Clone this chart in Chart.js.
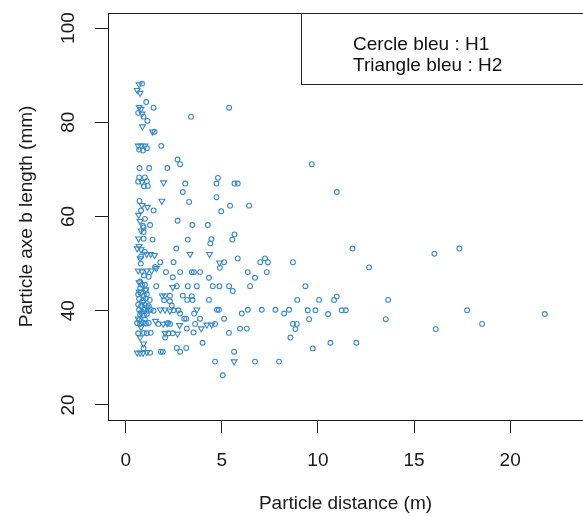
<!DOCTYPE html>
<html>
<head>
<meta charset="utf-8">
<script src="https://cdn.jsdelivr.net/npm/chart.js@4.4.1/dist/chart.umd.min.js"></script>
<style>
  html, body { margin: 0; padding: 0; background: #fff; }
  #wrap { position: relative; width: 583px; height: 516px; overflow: hidden; }
  #legendBox {
    position: absolute; left: 301px; top: 13px; width: 320px; height: 72px;
    border: 1px solid #222; box-sizing: border-box;
    font: 19px "Liberation Sans", Arial, sans-serif; color: #111;
    padding: 19px 0 0 51px; line-height: 21px;
  }
</style>
</head>
<body>
<div id="wrap">
  <canvas id="chart" width="583" height="516"></canvas>
  <div id="legendBox">Cercle bleu : H1<br>Triangle bleu : H2</div>
</div>
<script>
// H1 (circles): distance (m) and axe b length (mm)
const h1Distance = [
  0.85, 1.07, 1.45, 5.38, 3.4, 0.65, 0.93, 1.13, 1.5, 0.7, 0.9, 1.1, 1.85, 2.7, 2.83,
  0.72, 1.22, 2.17, 0.7, 1.0, 0.65, 1.1, 0.95, 1.15, 3.1, 4.8, 4.72, 5.66, 5.83, 2.97,
  4.72, 0.72, 3.3, 0.8, 1.45, 4.97, 5.43, 6.42, 0.9, 1.0, 1.27, 0.93, 0.93, 2.7, 3.47,
  4.27, 0.93, 1.4, 3.23, 4.46, 4.4, 5.66, 5.54, 2.63, 1.0, 0.8, 0.79, 5.83, 7.25, 1.8,
  2.49, 1.53, 5.12, 4.9, 7.0, 7.4, 8.7, 0.95, 1.2, 2.1, 2.83, 2.45, 3.44, 3.55, 3.87,
  4.33, 6.35, 6.73, 7.34, 0.85, 1.0, 0.75, 1.59, 2.66, 3.23, 3.7, 4.53, 4.88, 5.38, 5.57,
  6.47, 9.35, 9.68, 10.98, 11.8, 12.66, 16.06, 17.36,
  0.65, 0.8, 0.95, 1.1, 0.7, 0.9, 1.05, 1.25, 0.65, 0.8, 1.0, 1.2, 0.7, 0.85, 1.0,
  1.15, 1.3, 0.75, 0.95, 1.1, 2.3, 2.0, 2.3, 2.97, 3.2, 3.44, 3.48, 4.33, 8.93, 2.4,
  1.45, 2.49, 2.75, 2.83, 3.56, 4.75, 4.85, 6.04, 6.35, 7.08, 7.79, 8.24, 8.5, 9.47, 9.87,
  11.24, 11.45, 10.53, 9.54, 13.53, 17.76, 21.8, 10.06, 10.84, 10.98, 13.65,
  3.05, 3.15, 3.87, 5.12, 0.6, 0.75, 0.9, 1.05, 1.2, 0.7, 1.0, 1.7, 2.2, 2.31, 4.65,
  3.18, 3.61, 3.53, 5.37, 5.95, 6.3, 8.7, 8.9, 8.83, 8.57, 16.13, 18.54,
  0.65, 0.95, 1.1, 1.3, 2.23, 2.45, 2.05, 4.0, 0.93, 1.83, 1.93, 2.66, 2.83, 3.15, 5.64,
  4.65, 6.73, 7.98, 5.05, 9.73, 10.65, 12.0, 1.27, 0.75, 1.05
];
const h1Length = [
  88.2, 84.3, 83.1, 83.1, 81.2, 82.0, 81.2, 80.3, 78.0, 74.2, 74.0, 74.5, 75.0, 72.1, 71.1,
  70.3, 70.3, 70.3, 68.3, 68.3, 67.4, 67.5, 66.4, 66.5, 67.0, 68.2, 67.0, 67.0, 67.0, 65.2,
  64.1, 63.3, 63.1, 61.3, 61.3, 61.1, 62.3, 62.3, 58.0, 59.5, 58.2, 57.7, 56.7, 59.1, 58.2,
  58.2, 55.3, 55.1, 55.1, 55.2, 54.3, 56.2, 55.1, 53.2, 52.5, 51.5, 50.0, 51.1, 51.1, 50.3,
  50.3, 49.3, 50.3, 49.1, 50.3, 50.3, 50.3, 47.5, 47.2, 48.2, 48.2, 47.1, 48.2, 48.2, 48.2,
  47.0, 48.2, 47.0, 48.2, 45.5, 45.5, 44.8, 45.2, 45.2, 45.2, 45.2, 45.2, 45.2, 45.2, 44.2,
  45.2, 45.2, 71.1, 65.2, 53.2, 49.2, 52.1, 53.2,
  43.5, 43.8, 43.2, 43.5, 42.5, 42.2, 42.6, 42.3, 41.3, 41.0, 41.2, 41.0, 40.2, 39.8, 40.3,
  40.0, 40.2, 39.2, 39.0, 39.3, 43.2, 42.2, 42.0, 43.2, 42.3, 43.1, 42.3, 42.3, 42.3, 41.1,
  40.0, 40.1, 40.1, 39.4, 39.4, 40.2, 40.2, 39.4, 40.2, 40.2, 40.2, 39.4, 40.2, 40.1, 40.1,
  40.1, 40.1, 39.3, 38.2, 38.2, 40.1, 39.3, 42.3, 42.3, 43.0, 42.3,
  38.3, 38.3, 38.3, 38.3, 37.4, 37.2, 37.5, 37.3, 37.4, 38.0, 38.2, 37.2, 37.4, 37.2, 37.2,
  36.2, 37.2, 35.4, 35.3, 36.2, 36.2, 37.2, 37.2, 36.1, 34.3, 36.1, 37.2,
  35.2, 35.3, 35.2, 35.3, 35.2, 35.2, 34.3, 33.2, 32.0, 31.3, 31.3, 32.1, 31.3, 32.1, 31.3,
  29.2, 29.2, 29.2, 26.3, 32.0, 33.2, 33.2, 31.1, 46.2, 44.3
];

// H2 (triangles)
const h2Distance = [
  0.7, 0.6, 0.75, 0.7, 0.8, 0.85, 0.87, 1.4, 0.65, 0.8, 1.0, 0.85, 1.97, 0.85, 1.13,
  1.88, 0.67, 0.75, 0.8, 0.67, 0.7, 0.6, 0.8, 1.1, 1.3, 1.5, 3.35, 4.36, 0.75, 4.88,
  0.65, 0.85, 1.1, 1.35, 1.6, 0.7, 1.05, 2.45, 1.9, 2.05, 0.7, 0.9, 1.1, 0.8, 1.8,
  2.05, 2.3, 3.7, 1.55, 1.95, 2.15, 2.8, 3.93, 4.22, 4.48, 2.05, 2.7, 0.75, 0.93, 0.6,
  0.75, 0.9, 1.1, 5.64, 0.65, 0.8
];
const h2Length = [
  88.0, 86.8, 86.2, 83.2, 82.8, 81.8, 79.1, 78.0, 75.0, 75.0, 75.0, 67.3, 67.2, 62.4, 62.0,
  63.3, 60.3, 59.0, 57.0, 55.3, 53.7, 53.2, 53.0, 52.0, 52.0, 51.8, 52.0, 52.0, 51.1, 50.2,
  48.5, 48.3, 48.5, 48.5, 49.0, 46.0, 44.5, 45.0, 43.2, 43.2, 44.0, 41.8, 40.8, 39.5, 40.2,
  40.2, 40.0, 40.2, 37.8, 37.2, 37.3, 36.9, 36.2, 37.0, 37.0, 35.2, 35.1, 34.3, 33.0, 31.1,
  31.0, 31.0, 31.2, 29.2, 38.3, 36.5
];

const xTicks = [0, 5, 10, 15, 20];
const yTicks = [20, 40, 60, 80, 100];

const blue = '#3589cd';
const ink = '#1a1a1a';
const axisFont = { family: '"Liberation Sans", Arial, sans-serif', size: 19 };

const toPoints = (xs, ys) => xs.map((x, i) => ({ x, y: ys[i] }));

// R-style box: top edge of the plot region (right edge falls outside the picture)
const boxTop = {
  id: 'boxTop',
  afterDraw(chart) {
    const { ctx, chartArea } = chart;
    ctx.save();
    ctx.strokeStyle = ink;
    ctx.lineWidth = 1;
    ctx.beginPath();
    ctx.moveTo(chartArea.left, Math.round(chartArea.top) + 0.5);
    ctx.lineTo(chart.width, Math.round(chartArea.top) + 0.5);
    ctx.stroke();
    ctx.restore();
  },
};

const chart = new Chart(document.getElementById('chart').getContext('2d'), {
  type: 'scatter',
  data: {
    datasets: [
      {
        label: 'H1',
        data: toPoints(h1Distance, h1Length),
        pointStyle: 'circle',
        pointRadius: 2.4,
        borderWidth: 1.1,
        borderColor: blue,
        backgroundColor: 'rgba(0,0,0,0)',
      },
      {
        label: 'H2',
        data: toPoints(h2Distance, h2Length),
        pointStyle: 'triangle',
        rotation: 180,
        pointRadius: 3.4,
        borderWidth: 1.1,
        borderColor: blue,
        backgroundColor: 'rgba(0,0,0,0)',
      },
    ],
  },
  options: {
    responsive: false,
    animation: false,
    layout: { autoPadding: false, padding: { top: 13, right: 0, left: 0, bottom: 0 } },
    plugins: { legend: { display: false }, tooltip: { enabled: false } },
    scales: {
      x: {
        type: 'linear',
        min: -0.92,
        max: 23.79,
        afterBuildTicks: (s) => { s.ticks = xTicks.map((v) => ({ value: v })); },
        afterFit: (s) => { s.height = 96; s.paddingLeft = 0; s.paddingRight = 0; },
        grid: { drawOnChartArea: false, drawTicks: true, tickLength: 13, color: ink },
        border: { display: true, color: ink, width: 1 },
        ticks: { font: axisFont, color: ink, padding: 16, maxRotation: 0 },
        title: {
          display: true, text: 'Particle distance (m)', font: axisFont, color: ink,
          padding: { top: 0, bottom: 1 },
        },
      },
      y: {
        type: 'linear',
        min: 16.8,
        max: 103.2,
        afterBuildTicks: (s) => { s.ticks = yTicks.map((v) => ({ value: v })); },
        afterFit: (s) => { s.width = 108; s.paddingTop = 0; s.paddingBottom = 0; },
        grid: { drawOnChartArea: false, drawTicks: true, tickLength: 13, color: ink },
        border: { display: true, color: ink, width: 1 },
        ticks: { font: axisFont, color: ink, padding: 10, minRotation: 90, maxRotation: 90, crossAlign: 'center' },
        title: {
          display: true, text: 'Particle axe b length (mm)', font: axisFont, color: ink,
          padding: { top: 15, bottom: 0 },
        },
      },
    },
  },
  plugins: [boxTop],
});
</script>
</body>
</html>
